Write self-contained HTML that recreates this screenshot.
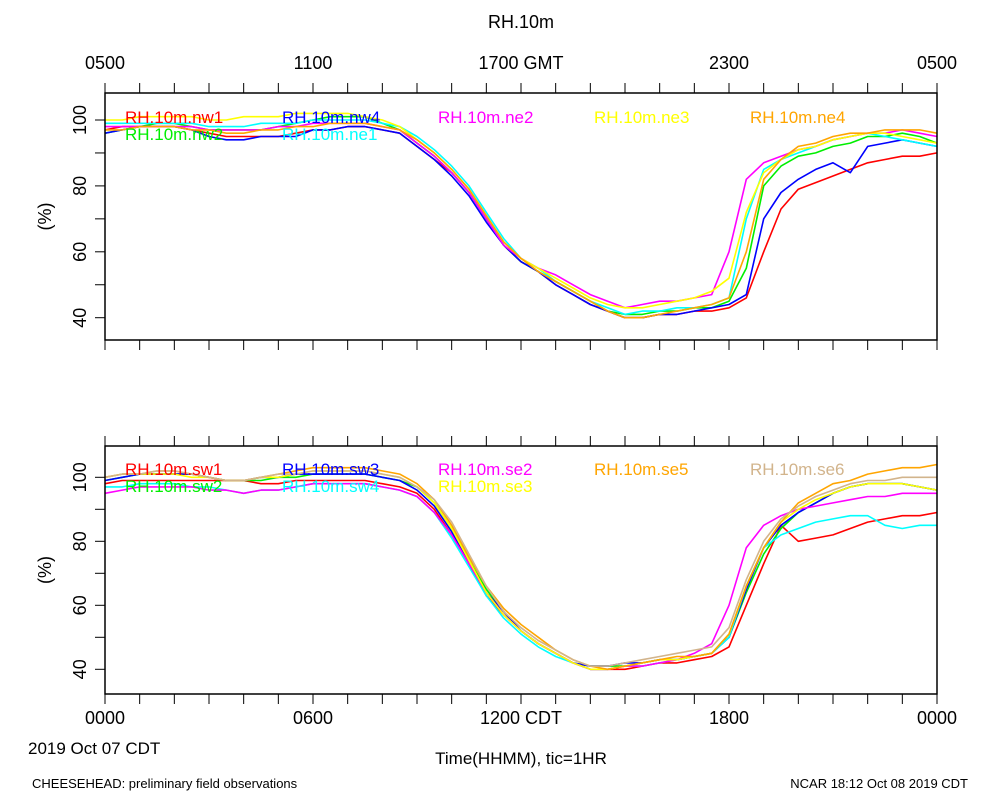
<!DOCTYPE html>
<html><head><meta charset="utf-8"><style>
html,body{margin:0;padding:0;background:#fff;}
svg{display:block;font-family:"Liberation Sans",Arial,sans-serif;}
</style></head><body>
<svg id="chart" width="1000" height="800" viewBox="0 0 1000 800">
<text x="521" y="28" font-size="18" text-anchor="middle">RH.10m</text>
<g id="top-gmt"></g>
<g id="p1"></g>
<g id="p2"></g>
<text x="28" y="754" font-size="17">2019 Oct 07 CDT</text>
<text x="521" y="764" font-size="17" text-anchor="middle">Time(HHMM), tic=1HR</text>
<text x="32" y="788" font-size="13">CHEESEHEAD: preliminary field observations</text>
<text x="968" y="788" font-size="13" text-anchor="end">NCAR 18:12 Oct 08 2019 CDT</text>
</svg>
<script>
// x: half-hour steps 0..24 h CDT
const gmtLabels=["0500","1100","1700 GMT","2300","0500"];
const cdtLabels=["0000","0600","1200 CDT","1800","0000"];
const yTicks=[40,50,60,70,80,90,100];
const yLabels=[40,60,80,100];
const topNames=["RH.10m.nw1","RH.10m.nw2","RH.10m.nw4","RH.10m.ne1","RH.10m.ne2","RH.10m.ne3","RH.10m.ne4"];
const topColors=["#ff0000","#00ee00","#0000ff","#00ffff","#ff00ff","#ffff00","#ffa500"];
const nw1=[97,98,98,98,98,97,96,95,95,95,95,96,97,97,98,98,97,96, 92,88,84,78,70,62,57,54,50,47,44,42,40,40,41,41,42,42,43, 46,60,73,79,81,83,85,87,88,89,89,90];
const nw2=[96,97,98,99,99,98,97,97,97,97,98,99,100,101,101,101,99,97, 93,89,84,78,70,62,57,54,51,48,45,42,41,41,42,42,43,43,45, 55,80,86,89,90,92,93,95,95,96,95,93];
const nw4=[96,97,98,98,98,97,95,94,94,95,95,95,97,97,98,98,97,96, 92,88,83,77,69,62,57,54,50,47,44,42,40,40,41,41,42,43,44, 47,70,78,82,85,87,84,92,93,94,93,92];
const ne1=[99,99,99,99,99,99,98,98,98,99,99,99,100,100,100,100,99,98, 95,91,86,80,72,64,58,55,51,48,45,43,41,42,42,43,43,44,46, 70,85,88,90,92,94,95,96,95,94,93,92];
const ne2=[98,98,98,98,98,98,97,97,97,97,98,98,99,99,99,99,98,97, 93,89,84,78,70,62,58,55,53,50,47,45,43,44,45,45,46,47,60, 82,87,89,91,92,94,95,96,96,97,96,95];
const ne3=[100,100,101,101,101,101,100,100,101,101,101,102,102,102,102,101,100,98, 94,90,85,79,71,63,58,55,52,49,46,44,43,43,44,45,46,48,52, 72,84,88,91,92,94,95,96,96,95,94,93];
const ne4=[97,97,98,98,98,97,97,96,96,97,97,98,98,99,99,99,98,97, 94,90,85,79,71,63,58,54,51,48,45,42,40,40,41,42,43,44,46, 60,82,88,92,93,95,96,96,97,97,97,96];
const topSeries=[nw1,nw2,nw4,ne1,ne2,ne3,ne4];
const botNames=["RH.10m.sw1","RH.10m.sw2","RH.10m.sw3","RH.10m.sw4","RH.10m.se2","RH.10m.se3","RH.10m.se5","RH.10m.se6"];
const botColors=["#ff0000","#00ee00","#0000ff","#00ffff","#ff00ff","#ffff00","#ffa500","#d2b48c"];
const sw1=[98,99,99,99,99,99,99,99,99,98,98,99,99,99,99,99,98,97, 95,90,82,73,63,57,52,48,45,42,40,40,40,41,42,42,43,44,47, 60,73,85,80,81,82,84,86,87,88,88,89];
const sw2=[99,100,101,101,101,101,100,99,99,99,100,100,101,101,101,101,100,99, 97,92,84,74,65,58,52,48,45,42,41,41,41,42,43,43,44,45,50, 64,76,84,89,92,95,97,98,98,98,97,96];
const sw3=[99,100,101,101,101,101,100,99,99,100,100,101,101,101,101,101,100,99, 96,91,83,73,64,58,52,48,45,42,41,41,42,42,43,43,44,45,50, 65,78,85,89,92,95,97,98,98,98,97,96];
const sw4=[97,97,98,98,98,97,97,96,95,96,96,97,98,98,98,98,97,96, 94,89,81,72,63,56,51,47,44,42,40,40,41,41,42,43,44,45,50, 66,78,82,84,86,87,88,88,85,84,85,85];
const se2=[95,96,97,97,97,97,96,96,95,96,96,97,98,98,98,98,97,96, 94,89,82,73,64,57,52,48,45,42,40,40,41,41,42,43,45,48,60, 78,85,88,90,91,92,93,94,94,95,95,95];
const se3=[100,101,101,101,101,100,100,99,99,100,100,101,102,102,102,102,101,100, 97,92,84,74,64,57,52,48,45,42,40,40,41,42,43,43,44,45,51, 66,78,86,90,93,95,97,98,98,98,97,96];
const se5=[100,101,101,102,102,101,100,99,99,100,101,102,103,103,103,103,102,101, 98,93,85,75,66,59,54,50,46,43,41,40,41,42,43,44,44,45,51, 66,78,86,92,95,98,99,101,102,103,103,104];
const se6=[100,101,101,102,102,101,100,99,99,100,101,101,102,102,102,102,101,100, 97,93,86,76,66,58,53,49,46,43,41,41,42,43,44,45,46,47,53, 68,80,87,91,94,96,98,99,99,100,100,100];
const botSeries=[sw1,sw2,sw3,sw4,se2,se3,se5,se6];

const NS="http://www.w3.org/2000/svg";
const X0=105,X1=937;
function xS(h){return X0+(X1-X0)*h/24;}
function mk(tag,attrs,parent,txt){const e=document.createElementNS(NS,tag);for(const k in attrs)e.setAttribute(k,attrs[k]);if(txt!==undefined)e.textContent=txt;parent.appendChild(e);return e;}

function panel(g,top,bot,y100,y40,series,colors,names,legendY,xlabels){
  const yS=v=>y40+(y100-y40)*(v-40)/60;
  for(let s=0;s<series.length;s++){
    const d=series[s].map((v,i)=>(i?"L":"M")+xS(i/2).toFixed(1)+","+yS(v).toFixed(1)).join("");
    const p=mk("path",{d:d,fill:"none",stroke:colors[s],"stroke-width":1.6,"stroke-linejoin":"round"},g);
    
    
  }
  const box=mk("rect",{x:X0,y:top,width:X1-X0,height:bot-top,fill:"none",stroke:"#000","stroke-width":1.5},g);
  
  
  for(let h=0;h<=24;h++){
    const t1=mk("line",{x1:xS(h),x2:xS(h),y1:bot,y2:bot+10,stroke:"#000","stroke-width":1},g);
    
    
    const t2=mk("line",{x1:xS(h),x2:xS(h),y1:top,y2:top-10,stroke:"#000","stroke-width":1},g);
    
    
  }
  yTicks.forEach(v=>{
    const t=mk("line",{x1:X0-10,x2:X0,y1:yS(v),y2:yS(v),stroke:"#000","stroke-width":1},g);
    
    
  });
  yLabels.forEach(v=>{
    const yy=yS(v);
    const t=mk("text",{x:0,y:0,"font-size":18,"text-anchor":"middle",transform:`translate(${X0-19},${yy}) rotate(-90)`},g,String(v));
    
    
  });
  const yl=mk("text",{x:0,y:0,"font-size":18,"text-anchor":"middle",transform:`translate(${51},${(top+bot)/2}) rotate(-90)`},g,"(%)");
  
  
  const lx=[125,125,282,282,438,438,594,750];
  const layout=names.length===7?[[125,0],[125,1],[282,0],[282,1],[438,0],[594,0],[750,0]]:[[125,0],[125,1],[282,0],[282,1],[438,0],[438,1],[594,0],[750,0]];
  names.forEach((n,i)=>{
    const t=mk("text",{x:layout[i][0],y:legendY+layout[i][1]*17,"font-size":17,fill:colors[i]},g,n);
    
    
  });
  if(xlabels){
    xlabels.forEach((l,i)=>{
      const t=mk("text",{x:xS(i*6),y:bot+30,"font-size":18,"text-anchor":"middle"},g,l);
      
      
    });
  }
}
panel(document.getElementById("p1"),93,340,120,317.7,topSeries,topColors,topNames,123,null);
panel(document.getElementById("p2"),446,694,477.3,669.3,botSeries,botColors,botNames,475,cdtLabels);
const gg=document.getElementById("top-gmt");
gmtLabels.forEach((l,i)=>{
  const t=mk("text",{x:xS(i*6),y:69,"font-size":18,"text-anchor":"middle"},gg,l);
  
  
});
</script>
</body></html>
